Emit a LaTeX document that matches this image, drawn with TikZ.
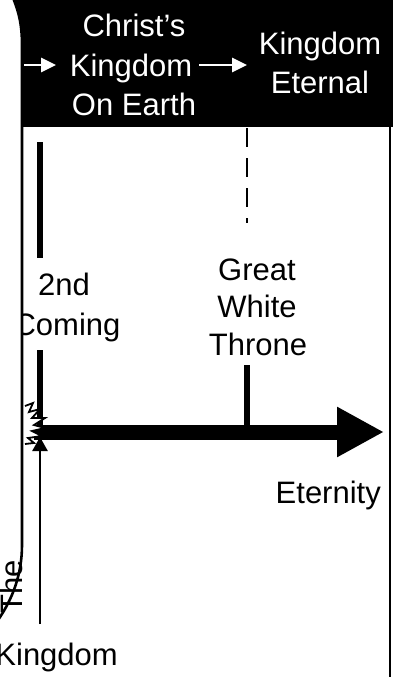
\documentclass[tikz,border=0pt]{standalone}
\usepackage{fontspec}
\setmainfont{Liberation Sans}
\usetikzlibrary{arrows.meta}
\begin{document}
\begin{tikzpicture}[x=1pt,y=-1pt,
  lbl/.style={font=\fontsize{31}{37}\selectfont, inner sep=0pt, anchor=base},
  wlbl/.style={lbl, text=white},
  warrow/.style={draw=white, line width=2.6pt, -{Triangle[length=15pt,width=14pt]}},
  bar/.style={line width=5.5pt},
  edge/.style={line width=2.6pt}]
\useasboundingbox (0,0) rectangle (396,677);
% black band
\fill[black] (0,0) rectangle (393,127);
% band texts
\node[wlbl] (ck1) at (134,37) {Christ’s};
\node[wlbl] (ck2) at (131,77) {Kingdom};
\node[wlbl] (ck3) at (134,115) {On Earth};
\node[wlbl] (ke1) at (320,55) {Kingdom};
\node[wlbl] (ke2) at (320,93) {Eternal};
\coordinate (a1s) at (24,65);
\coordinate (a1e) at (56,65);
\coordinate (a2s) at (199,65);
\coordinate (a2e) at (247,65);
\draw[warrow] (a1s) -- (a1e);
\draw[warrow] (a2s) -- (a2e);
% right border
\coordinate (rb1) at (390,127);
\coordinate (rb2) at (390,680);
\draw[edge] (rb1) -- (rb2);
% 2nd coming
\node[lbl] (sc1) at (64,295) {2nd};
\node[lbl] (sc2) at (67,335) {Coming};
\coordinate (c1) at (40,142);
\coordinate (c2) at (40,258);
\coordinate (c3) at (40,350);
\coordinate (c4) at (40,426);
\draw[bar] (c1) -- (c2);
\draw[bar] (c3) -- (c4);
% great white throne
\node[lbl] (gw1) at (257,280) {Great};
\node[lbl] (gw2) at (257,317) {White};
\node[lbl] (gw3) at (258,355) {Throne};
\coordinate (g1) at (247,128);
\coordinate (g2) at (247,223);
\coordinate (g3) at (247,365);
\coordinate (g4) at (247,426);
\draw[edge, dash pattern=on 19pt off 11pt] (g1) -- (g2);
\draw[bar] (g3) -- (g4);
% timeline
\coordinate (t0) at (34,432);
\coordinate (t1) at (384,432);
\draw[line width=15pt, -{Triangle[length=47pt,width=47pt]}] (t0) -- (t1);
\node[lbl, anchor=base east] (et) at (381,503) {Eternity};
% zigzag broken end
\draw[line width=1.8pt, line join=miter, fill=white]
  (25,406) -- (33,403) -- (29,412) -- (40,409) -- (32,418) -- (45,418)
  -- (34,425) -- (45,428) -- (32,431) -- (42,436) -- (28,438) -- (34,443) -- (25,444);
% up arrow
\coordinate (u0) at (40,624);
\coordinate (u1) at (40,437);
\draw[line width=2.6pt, -{Triangle[length=14pt,width=15pt]}] (u0) -- (u1);
\node[lbl, anchor=base east] (kb) at (118,665) {Kingdom};
% left box
\fill[white] (12,-5) .. controls (17,8) and (22,20) .. (22,45) -- (22,545)
  .. controls (22,575) and (12,600) .. (-2,620) -- (-20,620) -- (-20,-5) -- cycle;
\node[lbl, rotate=90, anchor=base west] (the) at (23,614) {The};
\draw[edge] (12,-5) .. controls (17,8) and (22,20) .. (22,45) -- (22,545)
  .. controls (22,575) and (12,600) .. (-2,620);
\end{tikzpicture}
\end{document}
